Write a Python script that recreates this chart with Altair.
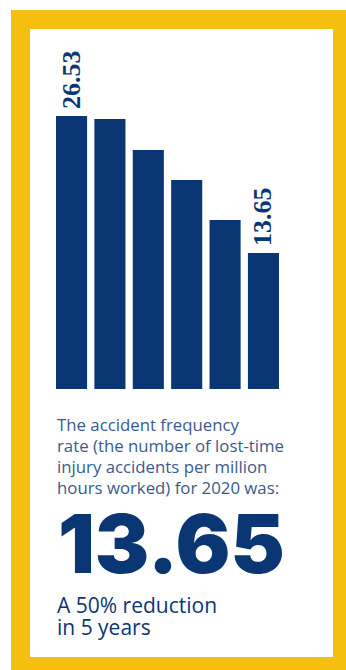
import altair as alt
import pandas as pd

# ---- data ----
years = ["2015", "2016", "2017", "2018", "2019", "2020"]
rates = [26.53, 26.25, 23.33, 20.51, 16.75, 13.65]
labels = ["26.53", "", "", "", "", "13.65"]

paragraph = [
    "The accident frequency",
    "rate (the number of lost-time",
    "injury accidents per million",
    "hours worked) for 2020 was:",
]
headline = "13.65"
footer = ["A 50% reduction", "in 5 years"]

NAVY = "#0b3674"
TEXT_BLUE = "#3a5a8e"
YELLOW = "#f5bf10"

df = pd.DataFrame({"year": years, "rate": rates, "label": labels})

xscale = alt.Scale(range=[35.5, 258.5], paddingInner=0.19, paddingOuter=0)
yscale = alt.Scale(domain=[0.86, 26.53], range=[369.5, 96.5], zero=False)

base = alt.Chart(df)

bars = base.mark_bar(color=NAVY).encode(
    x=alt.X("year:N", scale=xscale, axis=None),
    y=alt.Y("rate:Q", scale=yscale, axis=None),
    y2=alt.datum(0.86),
)

bar_labels = base.mark_text(
    angle=270, align="left", baseline="middle", dx=7,
    font="Liberation Serif", fontWeight="bold", fontSize=26, color=NAVY,
).encode(
    x=alt.X("year:N", scale=xscale, axis=None),
    y=alt.Y("rate:Q", scale=yscale, axis=None),
    text="label:N",
)

para = alt.Chart(pd.DataFrame({"t": [paragraph]})).mark_text(
    align="left", baseline="alphabetic", font="Open Sans", fontWeight=400,
    fontSize=16.8, lineHeight=21, color=TEXT_BLUE,
).encode(x=alt.value(36.5), y=alt.value(411), text="t")

big = alt.Chart(pd.DataFrame({"t": [headline]})).mark_text(
    align="left", baseline="alphabetic", font="Inter", fontWeight=900,
    fontSize=81.5, color=NAVY,
).encode(x=alt.value(37.5), y=alt.value(553.5), text="t")

foot = alt.Chart(pd.DataFrame({"t": [footer]})).mark_text(
    align="left", baseline="alphabetic", font="Open Sans", fontWeight=400,
    fontSize=21, lineHeight=22, color=NAVY,
).encode(x=alt.value(36.5), y=alt.value(593.5), text="t")

chart = alt.layer(bars, bar_labels, para, big, foot).properties(
    width=322, height=647,
    autosize=alt.AutoSizeParams(type="none"),
    padding={"left": 20.5, "top": 19.5, "right": 3.5, "bottom": 3.5},
    background="white",
).configure_view(
    fill="white", stroke=YELLOW, strokeWidth=19,
)

chart.save("out.html", embed_options={"renderer": "svg", "actions": False})
